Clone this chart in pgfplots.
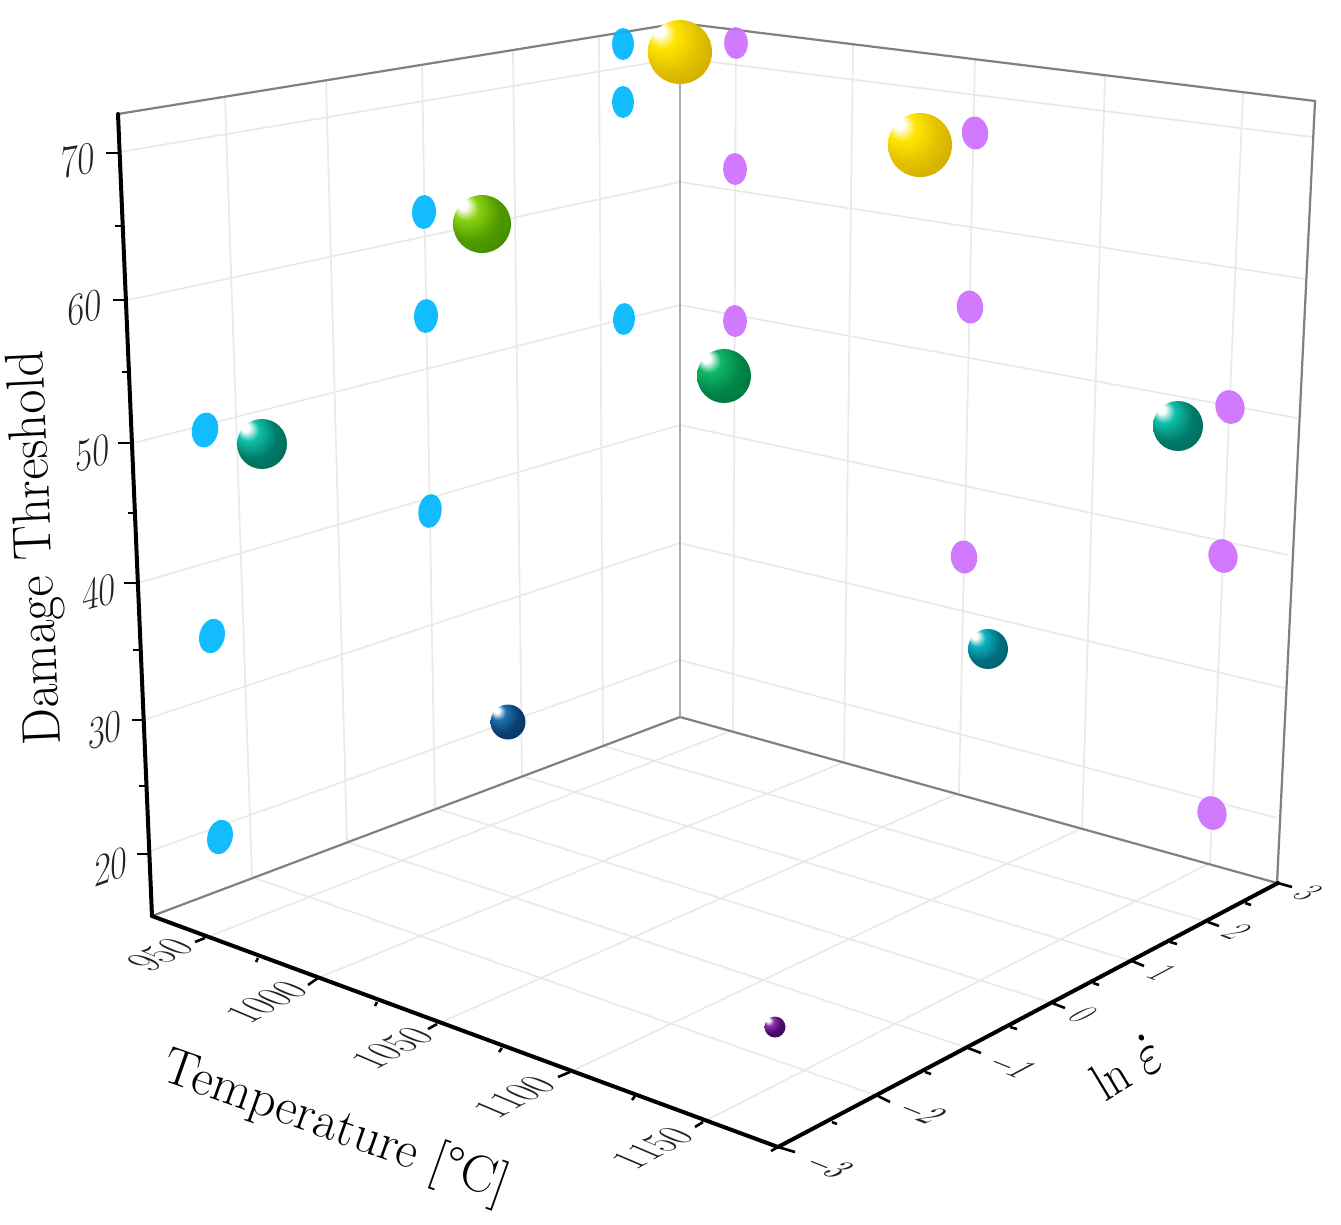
\documentclass[border=0pt]{standalone}
\usepackage{pgfplots}
\pgfplotsset{compat=1.18}
\definecolor{gridc}{HTML}{E9E9E9}
\definecolor{framec}{HTML}{808080}
\definecolor{centc}{HTML}{ABABAB}
\definecolor{bluec}{HTML}{00B7FF}
\definecolor{purc}{HTML}{CF70FF}
\definecolor{tickc}{HTML}{222222}
\definecolor{goldA}{HTML}{FFE600}\definecolor{goldB}{HTML}{E2C000}\definecolor{goldC}{HTML}{B09000}
\definecolor{limeA}{HTML}{8AD010}\definecolor{limeB}{HTML}{4F9A00}\definecolor{limeC}{HTML}{2F7A00}
\definecolor{greeA}{HTML}{10B868}\definecolor{greeB}{HTML}{008748}\definecolor{greeC}{HTML}{005E30}
\definecolor{tealA}{HTML}{10C0A8}\definecolor{tealB}{HTML}{007A68}\definecolor{tealC}{HTML}{005A4A}
\definecolor{cyanA}{HTML}{10B0C0}\definecolor{cyanB}{HTML}{006F80}\definecolor{cyanC}{HTML}{004F60}
\definecolor{navyA}{HTML}{2070B0}\definecolor{navyB}{HTML}{0A3F70}\definecolor{navyC}{HTML}{062C50}
\definecolor{violA}{HTML}{9030B0}\definecolor{violB}{HTML}{4A0A68}\definecolor{violC}{HTML}{360750}
\newcommand\mkball[1]{%
 \pgfdeclareradialshading{sh#1}{\pgfpoint{-18bp}{18bp}}{color(0bp)=(white); color(4bp)=(white); color(11bp)=(#1A); color(24bp)=(#1B); color(50bp)=(#1C)}%
 \pgfdeclareplotmark{sp#1}{\pgfpathcircle{\pgfpointorigin}{\pgfplotmarksize}\pgfshadepath{sh#1}{0}\pgfusepath{discard}}}
\mkball{gold}\mkball{lime}\mkball{gree}\mkball{teal}\mkball{cyan}\mkball{navy}\mkball{viol}
\pgfdeclareplotmark{elip}{\pgfpathcircle{\pgfpointorigin}{\pgfplotmarksize}\pgfusepathqfill}
\newcommand\gl[2]{\addplot[gridc,line width=1.7pt] coordinates {#1 #2};}
\newcommand\ax[2]{\addplot[black,line width=4pt,line cap=round] coordinates {#1 #2};}
\newcommand\tk[2]{\addplot[black,line width=2.6pt] coordinates {#1 #2};}
\newcommand\fs[1]{\fontsize{#1}{#1}\selectfont}
\newcommand\blob[5]{\addplot[only marks,mark=elip,mark size=#4pt,mark options={fill=#1,fill opacity=.93,rotate=#3,xscale=#5}] coordinates {#2};}
\newcommand\sph[3]{\addplot[only marks,mark=sp#1,mark size=#3pt] coordinates {#2};}
\begin{document}
\begin{tikzpicture}
\begin{axis}[scale only axis,width=1341pt,height=1224pt,xmin=0,xmax=1341,ymin=0,ymax=1224,y dir=reverse,hide axis,clip=false]
\path (axis cs:0,0) rectangle (axis cs:1341,1224);
% left wall: verticals
\gl{(225,97)}{(252,877)}
\gl{(326,81)}{(347,842)}
\gl{(422,66)}{(435,808)}
\gl{(513,51)}{(522,776)}
\gl{(599,37)}{(603,746)}
% left wall: horizontals
\gl{(120,152)}{(680,58)}
\gl{(128,300)}{(680,182)}
\gl{(133,443)}{(680,305)}
\gl{(138,583)}{(680,425)}
\gl{(143,720)}{(680,543)}
\gl{(148,852)}{(680,660)}
% right wall: verticals
\gl{(736,30)}{(733,730)}
\gl{(853,44)}{(844,762)}
\gl{(975,59)}{(959,793)}
\gl{(1105,76)}{(1082,828)}
\gl{(1243,93)}{(1210,863)}
% right wall: horizontals
\gl{(680,58)}{(1312,137)}
\gl{(680,182)}{(1306,279)}
\gl{(680,305)}{(1297,418)}
\gl{(680,425)}{(1288,555)}
\gl{(680,543)}{(1284,688)}
\gl{(680,660)}{(1277,818)}
% floor
\gl{(205,938)}{(733,730)}
\gl{(318,978)}{(844,762)}
\gl{(437,1024)}{(959,793)}
\gl{(570,1072)}{(1082,828)}
\gl{(703,1122)}{(1210,863)}
\gl{(878,1096)}{(252,877)}
\gl{(968,1048)}{(347,842)}
\gl{(1052,1003)}{(435,808)}
\gl{(1132,961)}{(522,776)}
\gl{(1208,922)}{(603,746)}
% frame
\addplot[framec,line width=2.2pt] coordinates {(118,114)(680,23)(1315,101)(1277,883)(680,717)(152,916)};
\addplot[centc,line width=2.4pt] coordinates {(680,23)(680,717)};
% axes
\ax{(118,114)}{(152,916)}
\ax{(152,916)}{(778,1147)}
\ax{(778,1147)}{(1278,883)}
% z ticks
\tk{(120,153)}{(106,153)}\tk{(123,226)}{(115,226)}
\tk{(128,300)}{(113,300)}\tk{(129,372)}{(122,372)}
\tk{(133,443)}{(118,443)}\tk{(135,513)}{(128,513)}
\tk{(138,583)}{(124,583)}\tk{(140,650)}{(133,650)}
\tk{(143,720)}{(132,720)}\tk{(146,786)}{(139,786)}
\tk{(148,854)}{(137,854)}
% T ticks
\tk{(205,938)}{(195,942)}\tk{(258,958)}{(256,962)}
\tk{(318,978)}{(308,985)}\tk{(377,1002)}{(375,1006)}
\tk{(437,1024)}{(428,1029)}\tk{(502,1048)}{(499,1052)}
\tk{(570,1072)}{(558,1077)}\tk{(635,1096)}{(632,1100)}
\tk{(703,1122)}{(695,1127)}\tk{(778,1147)}{(771,1151)}
% ln ticks
\tk{(1278,883)}{(1292,887)}\tk{(1245,903)}{(1251,905)}
\tk{(1208,922)}{(1219,926)}\tk{(1170,942)}{(1177,944)}
\tk{(1132,961)}{(1144,966)}\tk{(1093,983)}{(1099,985)}
\tk{(1052,1003)}{(1065,1008)}\tk{(1010,1027)}{(1017,1029)}
\tk{(968,1048)}{(981,1053)}\tk{(925,1072)}{(931,1074)}
\tk{(878,1096)}{(890,1102)}\tk{(832,1122)}{(837,1124)}
\tk{(778,1147)}{(795,1152)}
% blue projections
\blob{bluec}{(623,44)(623,102)}{0}{16}{.68}
\blob{bluec}{(424,212)(426,316)}{-3}{17}{.7}
\blob{bluec}{(624,319)}{-3}{16}{.68}
\blob{bluec}{(430,511)}{-8}{17}{.68}
\blob{bluec}{(205,430)}{-10}{17.5}{.75}
\blob{bluec}{(212,636)(220,837)}{-14}{17.5}{.72}
% purple projections
\blob{purc}{(736,43)(735,169)(735,321)}{2}{16}{.74}
\blob{purc}{(975,133)(970,307)(964,557)}{6}{16.5}{.8}
\blob{purc}{(1230,407)(1223,556)(1212,813)}{15}{17}{.85}
% spheres
\sph{gold}{(680,52)(920,145)}{32}
\sph{lime}{(482,224)}{29}
\sph{gree}{(724,376)}{27}
\sph{teal}{(1178,426)(262,444)}{25}
\sph{cyan}{(988,649)}{20}
\sph{navy}{(508,722)}{17.5}
\sph{viol}{(775,1027)}{10.5}
% z tick labels
\node[tickc,transform shape,cm={.837,.148,.03,1.05,(0,0)}] at (axis cs:78,160) {\fs{44}70};
\node[tickc,transform shape,cm={.831,.177,.03,1.05,(0,0)}] at (axis cs:85,308) {\fs{44}60};
\node[tickc,transform shape,cm={.825,.206,.03,1.05,(0,0)}] at (axis cs:93,453) {\fs{44}50};
\node[tickc,transform shape,cm={.819,.227,.03,1.05,(0,0)}] at (axis cs:99,592) {\fs{44}40};
\node[tickc,transform shape,cm={.811,.256,.03,1.05,(0,0)}] at (axis cs:105,730) {\fs{44}30};
\node[tickc,transform shape,cm={.801,.284,.03,1.05,(0,0)}] at (axis cs:111,867) {\fs{44}20};
% T tick labels
\node[tickc,transform shape,cm={.84,.446,-1.04,.44,(0,0)}] at (axis cs:160,955) {\fs{40}950};
\node[tickc,transform shape,cm={.84,.446,-1.04,.44,(0,0)}] at (axis cs:267,1002) {\fs{40}1000};
\node[tickc,transform shape,cm={.84,.446,-1.04,.44,(0,0)}] at (axis cs:393,1048) {\fs{40}1050};
\node[tickc,transform shape,cm={.84,.446,-1.04,.44,(0,0)}] at (axis cs:515,1097) {\fs{40}1100};
\node[tickc,transform shape,cm={.84,.446,-1.04,.44,(0,0)}] at (axis cs:653,1148) {\fs{40}1150};
% ln tick labels
\node[tickc,transform shape,cm={.742,-.30,.989,.525,(0,0)}] at (axis cs:1308,893) {\fs{36}3};
\node[tickc,transform shape,cm={.742,-.30,.989,.525,(0,0)}] at (axis cs:1237,932) {\fs{36}2};
\node[tickc,transform shape,cm={.742,-.30,.989,.525,(0,0)}] at (axis cs:1162,973) {\fs{36}1};
\node[tickc,transform shape,cm={.742,-.30,.989,.525,(0,0)}] at (axis cs:1083,1015) {\fs{36}0};
\node[tickc,transform shape,cm={.742,-.30,.989,.525,(0,0)}] at (axis cs:1010,1067) {\scalebox{3.6}{$-1$}};
\node[tickc,transform shape,cm={.742,-.30,.989,.525,(0,0)}] at (axis cs:920,1113) {\scalebox{3.6}{$-2$}};
\node[tickc,transform shape,cm={.742,-.30,.989,.525,(0,0)}] at (axis cs:827,1167) {\scalebox{3.6}{$-3$}};
% axis titles
\node[black,transform shape,cm={-.0454,.9990,-1.04,-.0472,(0,0)}] at (axis cs:38,548) {\fs{52}Damage Threshold};
\node[black,transform shape,cm={.943,-.334,.334,.943,(0,0)}] at (axis cs:335,1128) {\fs{52}Temperature [\textdegree C]};
\node[black,transform shape,cm={.857,.515,-.603,1.003,(0,0)}] at (axis cs:1126,1067) {{\fs{46}ln\ }\scalebox{5}{$\dot{\varepsilon}$}};
\end{axis}
\end{tikzpicture}
\end{document}
